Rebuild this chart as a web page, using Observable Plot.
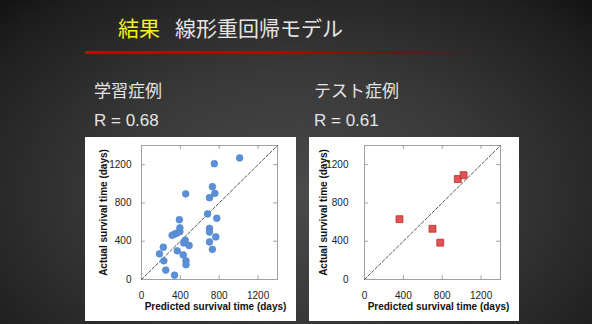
<!DOCTYPE html>
<html>
<head>
<meta charset="utf-8">
<script src="https://cdn.jsdelivr.net/npm/d3@7"></script>
<script src="https://cdn.jsdelivr.net/npm/@observablehq/plot@0.6"></script>
<style>
html, body { margin: 0; padding: 0; }
body {
  width: 592px; height: 324px; overflow: hidden; position: relative;
  background: radial-gradient(ellipse 80% 95% at 50% 60%, #4a4a4a 0%, #393939 40%, #1e1e1e 78%, #070707 100%);
  font-family: "Noto Sans CJK JP", sans-serif;
}
.t { position: absolute; white-space: nowrap; line-height: 1; }
.panel { position: absolute; background: #fff; box-shadow: inset 0 0 0 1px #c4c4c4; }
.panel svg { display: block; }
</style>
</head>
<body>
<div class="t" style="left:118px;top:17px;font-size:21px;color:#e4e4e4;"><span style="color:#f4f422;">結果</span><span style="margin-left:15px;">線形重回帰モデル</span></div>
<div style="position:absolute;left:85px;top:51px;width:390px;height:3px;background:linear-gradient(to right,#cf0000 0%,#c00000 50%,rgba(140,0,0,0.5) 80%,rgba(80,0,0,0) 100%);"></div>
<div class="t" style="left:94px;top:81px;font-size:17px;color:#e4e4e4;">学習症例</div>
<div class="t" style="left:94px;top:112px;font-size:17px;color:#e4e4e4;font-family:'Liberation Sans',Arial,sans-serif;">R = 0.68</div>
<div class="t" style="left:314px;top:81px;font-size:17px;color:#e4e4e4;">テスト症例</div>
<div class="t" style="left:314px;top:112px;font-size:17px;color:#e4e4e4;font-family:'Liberation Sans',Arial,sans-serif;">R = 0.61</div>
<div id="p1" class="panel" style="left:85px;top:137px;width:211px;height:184px;"></div>
<div id="p2" class="panel" style="left:309px;top:137px;width:210px;height:184px;"></div>
<script>
// ---- data ----
const trainPred   = [1010, 750, 730, 755, 700, 455, 680, 775, 390, 395, 395, 365, 340, 315, 700, 700, 765, 700, 730, 450, 435, 490, 225, 368, 185, 430, 230, 458, 458, 250, 340];
const trainActual = [1270, 1210, 970, 900, 855, 895, 685, 640, 625, 540, 500, 485, 475, 462, 535, 495, 445, 393, 315, 410, 382, 355, 337, 300, 268, 257, 195, 195, 155, 98, 45];
const testPred    = [360, 700, 780, 960, 1020];
const testActual  = [630, 530, 385, 1050, 1090];
const xTicks = [0, 400, 800, 1200];
const yTicks = [0, 400, 800, 1200];
const axisDomain = [0, 1400];
const diag = [0, 1400];
const xLabel = "Predicted survival time (days)";
const yLabel = "Actual survival time (days)";

const train = trainPred.map((p, i) => ({pred: p, actual: trainActual[i]}));
const test = testPred.map((p, i) => ({pred: p, actual: testActual[i]}));

function panel(data, dotOpts, cfg) {
  const tl = 40; // inward tick length in data units
  const hi = axisDomain[1];
  return Plot.plot({
    width: cfg.width, height: 184,
    marginLeft: cfg.ml, marginRight: cfg.mr, marginTop: 8, marginBottom: 42,
    style: {fontFamily: '"Liberation Sans", Arial, sans-serif', fontSize: "10px", color: "#222", background: "white", overflow: "visible"},
    x: {domain: axisDomain, ticks: xTicks, tickFormat: d => String(d), tickSize: 0, tickPadding: 12, label: null},
    y: {domain: axisDomain, ticks: yTicks, tickFormat: d => String(d), tickSize: 0, tickPadding: cfg.tp, label: null},
    marks: [
      Plot.frame({stroke: "#a0a0a0"}),
      Plot.ruleX(xTicks, {x: d => d, y1: 0, y2: tl, stroke: "#a0a0a0"}),
      Plot.ruleX(xTicks, {x: d => d, y1: hi - tl, y2: hi, stroke: "#a0a0a0"}),
      Plot.ruleY(yTicks, {y: d => d, x1: 0, x2: tl, stroke: "#a0a0a0"}),
      Plot.ruleY(yTicks, {y: d => d, x1: hi - tl, x2: hi, stroke: "#a0a0a0"}),
      Plot.line(diag, {x: d => d, y: d => d, stroke: "#555", strokeWidth: 1, strokeDasharray: "3,2"}),
      Plot.dot(data, {x: "pred", y: "actual", ...dotOpts}),
      Plot.text([xLabel], {text: d => d, frameAnchor: "bottom", textAnchor: "middle", dy: 30, dx: 6, fontWeight: "bold", fontSize: 10, fill: "#111"}),
      Plot.text([yLabel], {text: d => d, frameAnchor: "left", textAnchor: "middle", rotate: -90, dx: cfg.ydx, fontWeight: "bold", fontSize: 10, fill: "#111"})
    ]
  });
}

document.getElementById("p1").appendChild(panel(train,
  {r: 3.4, fill: "#5b8fd6", stroke: "#4f84cc", strokeWidth: 0.6},
  {width: 211, ml: 56, mr: 19, tp: 10, ydx: -38}));
document.getElementById("p2").appendChild(panel(test,
  {symbol: "square", r: 3.9, fill: "#e15252", stroke: "#b83030", strokeWidth: 0.8},
  {width: 210, ml: 55, mr: 19, tp: 16, ydx: -41}));
</script>
</body>
</html>
